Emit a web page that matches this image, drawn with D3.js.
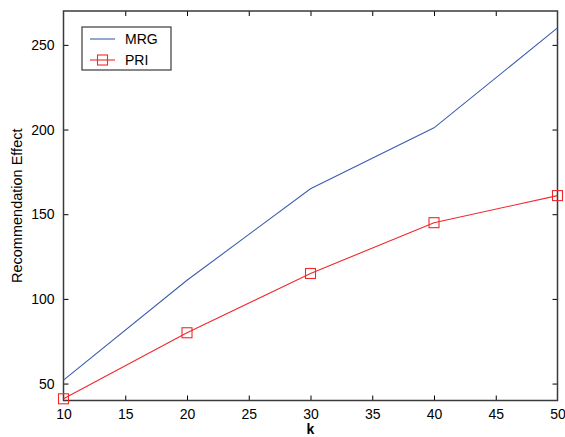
<!DOCTYPE html>
<html>
<head>
<meta charset="utf-8">
<script src="https://cdn.jsdelivr.net/npm/d3@7"></script>
<style>
  body { margin: 0; background: #fff; }
  svg text { font-family: "Liberation Sans", Arial, sans-serif; }
</style>
</head>
<body>
<div id="chart"></div>
<script>
"use strict";
const kValues = [10, 20, 30, 40, 50];
const mrgValues = [52, 111, 165, 201, 260];
const priValues = [41, 80, 115, 145, 161];
const xTicks = [10, 15, 20, 25, 30, 35, 40, 45, 50];
const yTicks = [50, 100, 150, 200, 250];

const width = 565, height = 437;
const plot = { left: 63.5, top: 11, right: 557.5, bottom: 400.5 };

const svg = d3.select("#chart").append("svg")
    .attr("width", width)
    .attr("height", height);

const x = d3.scaleLinear().domain([10, 50]).range([plot.left, plot.right]);
const y = d3.scaleLinear().domain([40, 270]).range([plot.bottom, plot.top]);

const axisColor = "#3a3a3a";

// axes, ticks point inward
const axisB = svg.append("g")
    .attr("transform", `translate(0,${plot.bottom})`)
    .call(d3.axisBottom(x).tickValues(xTicks).tickSizeInner(-5).tickSizeOuter(0).tickPadding(9));
const axisT = svg.append("g")
    .attr("transform", `translate(0,${plot.top})`)
    .call(d3.axisTop(x).tickValues(xTicks).tickSizeInner(-5).tickSizeOuter(0).tickFormat(""));
const axisL = svg.append("g")
    .attr("transform", `translate(${plot.left},0)`)
    .call(d3.axisLeft(y).tickValues(yTicks).tickSizeInner(-5).tickSizeOuter(0).tickPadding(9));
const axisR = svg.append("g")
    .attr("transform", `translate(${plot.right},0)`)
    .call(d3.axisRight(y).tickValues(yTicks).tickSizeInner(-5).tickSizeOuter(0).tickFormat(""));

[axisB, axisT, axisL, axisR].forEach(g => {
    g.select(".domain").remove();
    g.selectAll(".tick line").attr("stroke", "#000").attr("stroke-width", 1);
    g.selectAll(".tick text")
        .attr("fill", "#000")
        .style("font-size", "14px");
});
axisB.selectAll(".tick line").filter(d => d === 10 || d === 50).remove();
axisT.selectAll(".tick line").filter(d => d === 10 || d === 50).remove();

svg.append("rect")
    .attr("x", plot.left)
    .attr("y", plot.top)
    .attr("width", plot.right - plot.left)
    .attr("height", plot.bottom - plot.top)
    .attr("fill", "none")
    .attr("stroke", axisColor)
    .attr("stroke-width", 1.5);

const line = d3.line()
    .x(d => x(d[0]))
    .y(d => y(d[1]));

const mrgColor = "#3c5fb0";
const priColor = "#f0282c";

svg.append("path")
    .datum(kValues.map((k, i) => [k, mrgValues[i]]))
    .attr("fill", "none")
    .attr("stroke", mrgColor)
    .attr("stroke-width", 1.1)
    .attr("d", line);

const priData = kValues.map((k, i) => [k, priValues[i]]);
svg.append("path")
    .datum(priData)
    .attr("fill", "none")
    .attr("stroke", priColor)
    .attr("stroke-width", 1.1)
    .attr("d", line);

const markerSize = 10;
svg.selectAll(".pri-marker")
    .data(priData)
    .enter()
    .append("rect")
    .attr("class", "pri-marker")
    .attr("x", d => x(d[0]) - markerSize / 2)
    .attr("y", d => y(d[1]) - markerSize / 2)
    .attr("width", markerSize)
    .attr("height", markerSize)
    .attr("fill", "none")
    .attr("stroke", priColor)
    .attr("stroke-width", 1.1);

// axis labels
svg.append("text")
    .attr("x", (plot.left + plot.right) / 2)
    .attr("y", 434)
    .attr("text-anchor", "middle")
    .style("font-size", "14px")
    .style("font-weight", "bold")
    .attr("fill", "#000")
    .text("k");

svg.append("text")
    .attr("transform", `translate(22,${(plot.top + plot.bottom) / 2}) rotate(-90)`)
    .attr("text-anchor", "middle")
    .style("font-size", "14.5px")
    .attr("fill", "#000")
    .text("Recommendation Effect");

// legend
const legend = svg.append("g").attr("transform", "translate(82,27)");
legend.append("rect")
    .attr("width", 89)
    .attr("height", 43)
    .attr("fill", "#fff")
    .attr("stroke", axisColor)
    .attr("stroke-width", 1.2);
const legendItems = [
    { name: "MRG", color: mrgColor, marker: false },
    { name: "PRI", color: priColor, marker: true }
];
const item = legend.selectAll(".item")
    .data(legendItems)
    .enter()
    .append("g")
    .attr("transform", (d, i) => `translate(0,${12 + i * 21})`);
item.append("line")
    .attr("x1", 8).attr("x2", 33)
    .attr("stroke", d => d.color)
    .attr("stroke-width", 1.1);
item.filter(d => d.marker).append("rect")
    .attr("x", 20.5 - markerSize / 2)
    .attr("y", -markerSize / 2)
    .attr("width", markerSize)
    .attr("height", markerSize)
    .attr("fill", "none")
    .attr("stroke", d => d.color)
    .attr("stroke-width", 1.1);
item.append("text")
    .attr("x", 43)
    .attr("y", 5)
    .style("font-size", "14px")
    .attr("fill", "#000")
    .text(d => d.name);
</script>
</body>
</html>
